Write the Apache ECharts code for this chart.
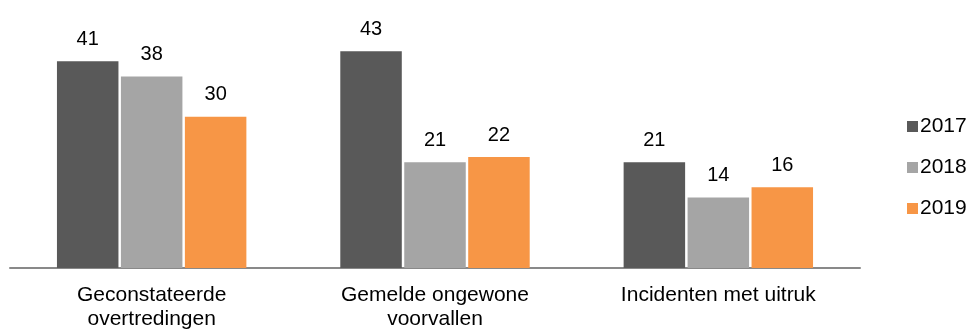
<!DOCTYPE html>
<html>
<head>
<meta charset="utf-8">
<script src="https://cdn.jsdelivr.net/npm/echarts@6/dist/echarts.min.js"></script>
<style>
  html, body { margin: 0; padding: 0; background: #fff; }
  #chart { width: 971px; height: 329px; }
</style>
</head>
<body>
<div id="chart"></div>
<script>
// Categories and yearly counts
const categories = ['Geconstateerde\novertredingen', 'Gemelde ongewone\nvoorvallen', 'Incidenten met uitruk'];
const years = ['2017', '2018', '2019'];
const values2017 = [41, 43, 21];
const values2018 = [38, 21, 14];
const values2019 = [30, 22, 16];
const seriesValues = [values2017, values2018, values2019];
const colors = ['#595959', '#a5a5a5', '#f79646'];

const FONT = 'Liberation Sans, Arial, sans-serif';

const chart = echarts.init(document.getElementById('chart'), null, { renderer: 'canvas' });

chart.setOption({
  animation: false,
  textStyle: { fontFamily: FONT },
  grid: { left: 10, right: 111, top: 16, bottom: 61, containLabel: false, outerBoundsMode: 'none' },
  legend: {
    orient: 'vertical',
    left: 902,
    top: 111,
    itemWidth: 11,
    itemHeight: 11,
    itemGap: 20,
    icon: 'rect',
    textStyle: { fontFamily: FONT, fontSize: 21, color: '#000', padding: [0, 0, 0, -3] },
    data: years
  },
  xAxis: {
    type: 'category',
    data: categories,
    axisLine: { show: true, lineStyle: { color: '#898989', width: 2 } },
    axisTick: { show: false },
    axisLabel: {
      fontFamily: FONT,
      fontSize: 21,
      color: '#000',
      margin: 15,
      lineHeight: 24,
      interval: 0
    }
  },
  yAxis: {
    type: 'value',
    min: 0,
    max: 50,
    show: false,
    splitLine: { show: false }
  },
  series: years.map((y, i) => ({
    name: y,
    type: 'bar',
    data: seriesValues[i],
    barWidth: 61.5,
    barGap: '4%',
    itemStyle: { color: colors[i] },
    label: {
      show: true,
      position: 'top',
      distance: 12,
      fontFamily: FONT,
      fontSize: 20,
      color: '#000'
    }
  }))
});
</script>
</body>
</html>
